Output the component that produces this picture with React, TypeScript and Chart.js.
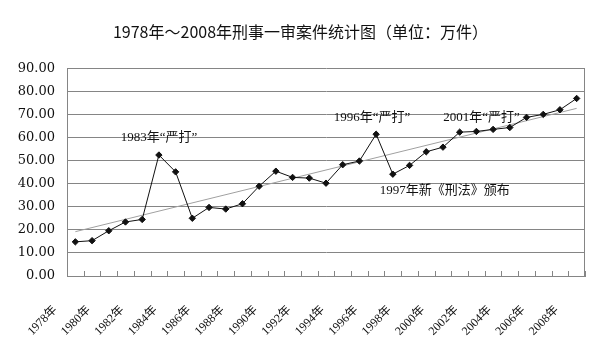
import React, { useEffect, useRef } from "react";
import { Chart, registerables } from "chart.js";

Chart.register(...registerables);

const years: string[] = [
  "1978", "1979", "1980", "1981", "1982", "1983", "1984", "1985", "1986", "1987",
  "1988", "1989", "1990", "1991", "1992", "1993", "1994", "1995", "1996", "1997",
  "1998", "1999", "2000", "2001", "2002", "2003", "2004", "2005", "2006", "2007", "2008",
];

const cases: number[] = [
  14.8, 15.3, 19.6, 23.4, 24.5, 52.4, 45.1, 25.0, 29.7, 29.0,
  31.3, 38.9, 45.4, 42.7, 42.4, 40.2, 48.2, 49.8, 61.4, 44.1,
  47.9, 53.8, 55.8, 62.3, 62.6, 63.5, 64.3, 68.7, 70.0, 72.0, 76.9,
];

// linear trend line: read only its two ends from the picture
const trendStart = 19.2;
const trendEnd = 72.6;

const noteTexts: string[] = ["1983年“严打”", "1996年“严打”", "2001年“严打”", "1997年新《刑法》颁布"];
const noteYears: number[] = [1983, 1995.75, 2002.3, 2000.1];
const noteValues: number[] = [60, 68.4, 68.4, 36.8];

const TITLE = "1978年～2008年刑事一审案件统计图（单位：万件）";
const GRID = "#858585";
const SERIF = "'Liberation Serif', 'Noto Sans CJK SC', serif";

export default function App() {
  const ref = useRef<HTMLCanvasElement | null>(null);

  useEffect(() => {
    if (!ref.current) return;
    const trend: (number | null)[] = years.map((_, i) =>
      i === 0 ? trendStart : i === years.length - 1 ? trendEnd : null
    );

    const framePlugin = {
      id: "frame",
      beforeDatasetsDraw(chart: any) {
        const { ctx, chartArea, scales } = chart;
        const xs = scales.x;
        ctx.save();
        ctx.strokeStyle = GRID;
        ctx.lineWidth = 1;
        ctx.beginPath();
        for (let i = 0; i <= years.length; i++) {
          const px = Math.round(xs.getPixelForValue(i - 0.5)) + 0.5;
          ctx.moveTo(px, chartArea.bottom);
          ctx.lineTo(px, chartArea.bottom - 5);
        }
        const rx = Math.round(chartArea.right) - 0.5;
        ctx.moveTo(rx, chartArea.top);
        ctx.lineTo(rx, chartArea.bottom);
        ctx.stroke();

        ctx.fillStyle = "#111";
        ctx.font = "13px " + SERIF;
        ctx.textAlign = "center";
        ctx.textBaseline = "middle";
        const ys = scales.y;
        noteTexts.forEach((t, k) => {
          ctx.fillText(t, xs.getPixelForValue(noteYears[k] - 1978), ys.getPixelForValue(noteValues[k]));
        });
        ctx.restore();
      },
    };

    const chart = new Chart(ref.current, {
      type: "line",
      data: {
        labels: years,
        datasets: [
          {
            label: "趋势线",
            data: trend,
            borderColor: "#a0a0a0",
            borderWidth: 1,
            pointRadius: 0,
            spanGaps: true,
            order: 2,
          },
          {
            label: "刑事一审案件",
            data: cases,
            borderColor: "#111",
            backgroundColor: "#111",
            borderWidth: 1,
            pointStyle: "rectRot",
            pointRadius: 3.2,
            pointBackgroundColor: "#111",
            pointBorderColor: "#111",
            order: 1,
          },
        ],
      },
      options: {
        animation: false,
        responsive: true,
        maintainAspectRatio: false,
        layout: { padding: { left: 27, right: 7, top: 0, bottom: 14 } },
        plugins: {
          legend: { display: false },
          tooltip: { enabled: false },
          title: {
            display: true,
            text: TITLE,
            color: "#111",
            font: { family: "'Noto Sans CJK SC', sans-serif", size: 16, weight: "normal" },
            padding: { top: 14, bottom: 27 },
          },
        },
        scales: {
          x: {
            type: "category",
            offset: true,
            grid: { display: false, drawTicks: false },
            border: { display: true, color: GRID, width: 1 },
            afterFit: (s: any) => {
              s.height = 65;
              s.paddingLeft = 0;
              s.paddingRight = 0;
            },
            ticks: {
              autoSkip: false,
              maxRotation: 45,
              minRotation: 45,
              padding: 27,
              labelOffset: -20,
              color: "#111",
              font: { family: SERIF, size: 12 },
              callback: (_v: any, i: number) => (i % 2 === 0 ? years[i] + "年" : ""),
            },
          },
          y: {
            min: 0,
            max: 90,
            grid: { color: GRID, lineWidth: 1, drawTicks: false },
            border: { display: true, color: GRID, width: 1 },
            afterFit: (s: any) => {
              s.width = 51;
            },
            ticks: {
              stepSize: 10,
              padding: 12,
              color: "#111",
              font: { family: "'DejaVu Serif', serif", size: 13 },
              callback: (v: any) => Number(v).toFixed(2),
            },
          },
        },
      },
      plugins: [framePlugin],
    });
    return () => chart.destroy();
  }, []);

  return (
    <div style={{ marginLeft: -19, width: 603, height: 347, position: "relative" }}>
      <canvas ref={ref} />
    </div>
  );
}
